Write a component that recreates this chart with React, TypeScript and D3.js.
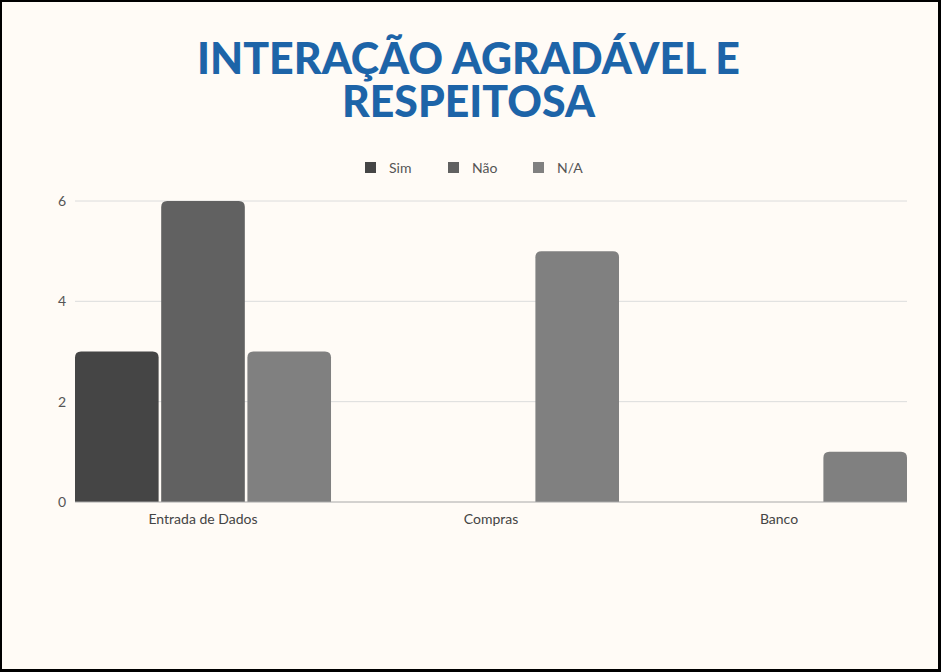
import * as d3 from "d3";
import { useEffect, useRef } from "react";

const categories = ["Entrada de Dados", "Compras", "Banco"];
const seriesNames = ["Sim", "Não", "N/A"];
const simValues = [3, 0, 0];
const naoValues = [6, 0, 0];
const naValues = [3, 5, 1];
const yTicks = [0, 2, 4, 6];
const titleLines = ["INTERAÇÃO AGRADÁVEL E", "RESPEITOSA"];

const colors = ["#454545", "#616161", "#808080"];

export default function App() {
  const svgRef = useRef<SVGSVGElement | null>(null);
  const width = 941;
  const height = 672;
  const margin = { top: 201, right: 34, bottom: 170, left: 75 };

  useEffect(() => {
    if (!svgRef.current) return;
    const svg = d3.select(svgRef.current);
    svg.selectAll("*").remove();

    // frame
    svg.append("rect").attr("width", width).attr("height", height).attr("fill", "#000");
    svg
      .append("rect")
      .attr("x", 2)
      .attr("y", 2)
      .attr("width", width - 5)
      .attr("height", height - 5)
      .attr("fill", "#fffbf6");

    // title
    const titleWidths = [543, 253];
    svg
      .selectAll(".title")
      .data(titleLines)
      .enter()
      .append("text")
      .attr("class", "title")
      .attr("x", width / 2 - 2)
      .attr("y", (_, i) => 74 + i * 43)
      .attr("text-anchor", "middle")
      .attr("textLength", (_, i) => titleWidths[i])
      .attr("lengthAdjust", "spacingAndGlyphs")
      .style("font-family", "Lato, sans-serif")
      .style("font-weight", 900)
      .style("font-size", "43px")
      .style("fill", "#1d64a8")
      .text((d) => d);

    const innerW = width - margin.left - margin.right;
    const innerH = height - margin.top - margin.bottom;
    const g = svg.append("g").attr("transform", `translate(${margin.left},${margin.top})`);

    const x0 = d3.scaleBand().domain(categories).range([0, innerW]).paddingInner(0.111).paddingOuter(0);
    const x1 = d3.scaleBand().domain(seriesNames).range([0, x0.bandwidth()]).paddingInner(0.03);
    const y = d3.scaleLinear().domain([0, 6]).range([innerH, 0]);

    // grid
    g.selectAll(".grid")
      .data(yTicks.filter((t) => t > 0))
      .enter()
      .append("line")
      .attr("x1", 0)
      .attr("x2", innerW)
      .attr("y1", (d) => y(d))
      .attr("y2", (d) => y(d))
      .attr("stroke", "#dcdcdc")
      .attr("stroke-width", 1);

    // y labels
    g.selectAll(".ylab")
      .data(yTicks)
      .enter()
      .append("text")
      .attr("x", -9)
      .attr("y", (d) => y(d) + 5)
      .attr("text-anchor", "end")
      .style("font-family", "Lato, sans-serif")
      .style("font-size", "14px")
      .style("fill", "#555")
      .text((d) => d);

    const rows = categories.map((c, i) => ({
      category: c,
      values: [simValues[i], naoValues[i], naValues[i]],
    }));

    const bars = rows.flatMap((r) =>
      r.values.map((v, j) => ({ category: r.category, series: seriesNames[j], value: v, color: colors[j] })),
    );

    const r = 6;
    g.selectAll(".bar")
      .data(bars.filter((b) => b.value > 0))
      .enter()
      .append("path")
      .attr("fill", (d) => d.color)
      .attr("d", (d) => {
        const bx = x0(d.category)! + x1(d.series)!;
        const bw = x1.bandwidth();
        const top = y(d.value);
        const bottom = y(0);
        return `M${bx},${bottom}V${top + r}Q${bx},${top} ${bx + r},${top}H${bx + bw - r}Q${bx + bw},${top} ${bx + bw},${top + r}V${bottom}Z`;
      });

    // baseline
    g.append("line")
      .attr("x1", 0)
      .attr("x2", innerW)
      .attr("y1", y(0))
      .attr("y2", y(0))
      .attr("stroke", "#a8a8a8")
      .attr("stroke-width", 1);

    // category labels
    g.selectAll(".xlab")
      .data(categories)
      .enter()
      .append("text")
      .attr("x", (d) => x0(d)! + x0.bandwidth() / 2)
      .attr("y", innerH + 22)
      .attr("text-anchor", "middle")
      .style("font-family", "Lato, sans-serif")
      .style("font-size", "14px")
      .style("fill", "#444")
      .text((d) => d);

    // legend
    const legendX = [365, 448, 533];
    const legend = svg
      .selectAll(".legend")
      .data(seriesNames)
      .enter()
      .append("g")
      .attr("transform", (_, i) => `translate(${legendX[i]},162)`);
    legend
      .append("rect")
      .attr("width", 11)
      .attr("height", 11)
      .attr("fill", (_, i) => colors[i]);
    legend
      .append("text")
      .attr("x", 24)
      .attr("y", 10.5)
      .style("font-family", "Lato, sans-serif")
      .style("font-size", "14px")
      .style("fill", "#555")
      .text((d) => d);
  }, [svgRef]);

  return (
    <svg
      ref={svgRef}
      width={width}
      height={height}
      style={{ position: "absolute", left: 0, top: 0, display: "block" }}
    />
  );
}
